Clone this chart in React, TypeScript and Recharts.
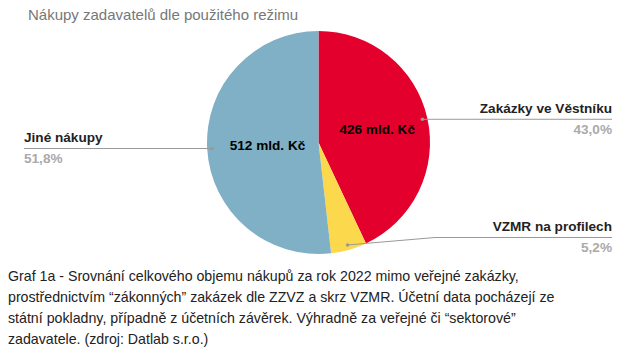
import { PieChart, Pie, Cell } from 'recharts';

// podíly (%) a objemy (mld. Kč) podle režimu nákupu
const categories = ['Zakázky ve Věstníku', 'VZMR na profilech', 'Jiné nákupy'];
const shares = [43.0, 5.2, 51.8];
const amounts: (number | null)[] = [426, null, 512];
const colors = ['#e4002d', '#fcd94c', '#7fb0c5'];

const title = 'Nákupy zadavatelů dle použitého režimu';
const caption =
  'Graf 1a - Srovnání celkového objemu nákupů za rok 2022 mimo veřejné zakázky, prostřednictvím \u201czákonných\u201d zakázek dle ZZVZ a skrz VZMR. Účetní data pocházejí ze státní pokladny, případně z účetních závěrek. Výhradně za veřejné či \u201csektorové\u201d zadavatele. (zdroj: Datlab s.r.o.)';

const data = categories.map((name, i) => ({ name, value: shares[i], amount: amounts[i] }));

const W = 635;
const H = 265;
const RADIAN = Math.PI / 180;
const FONT = '"Liberation Sans", Arial, sans-serif';

const fmtPct = (v: number) => v.toFixed(1).replace('.', ',') + '%';

function renderLabel(props: any) {
  const { cx, cy, midAngle, outerRadius, index, percent } = props;
  const cos = Math.cos(-midAngle * RADIAN);
  const sin = Math.sin(-midAngle * RADIAN);
  const ax = cx + (outerRadius - 5) * cos;
  const ay = cy + (outerRadius - 5) * sin;
  const right = cos >= 0;
  const lineY = Math.min(ay, cy + 95);
  const bendX = right ? cx + outerRadius + 5 : cx - outerRadius - 5;
  const endX = right ? W - 23 : 24;
  const path =
    lineY !== ay
      ? `M${ax},${ay}L${bendX},${lineY}L${endX},${lineY}`
      : `M${ax},${ay}L${endX},${lineY}`;

  // vnitřní popisek poblíž těžiště výseče
  const theta = percent * 2 * Math.PI;
  const cr = ((4 * outerRadius * Math.sin(theta / 2)) / (3 * theta)) * 1.12;
  const amount = data[index].amount;

  return (
    <g>
      <path d={path} stroke="#999" strokeWidth={1} fill="none" />
      <circle cx={ax} cy={ay} r={1.8} fill="#999" />
      <text
        x={endX}
        y={lineY - 6.5}
        textAnchor={right ? 'end' : 'start'}
        fontFamily={FONT}
        fontSize={13.6}
        fontWeight="bold"
        fill="#222"
      >
        {data[index].name}
      </text>
      <text
        x={endX}
        y={lineY + 14.5}
        textAnchor={right ? 'end' : 'start'}
        fontFamily={FONT}
        fontSize={13.6}
        fontWeight="bold"
        fill="#aaa"
      >
        {fmtPct(data[index].value)}
      </text>
      {amount != null && (
        <text
          x={cx + cr * cos}
          y={cy + cr * sin}
          textAnchor="middle"
          dominantBaseline="central"
          fontFamily={FONT}
          fontSize={13.6}
          fontWeight="bold"
          fill="#000"
        >
          {amount} mld. Kč
        </text>
      )}
    </g>
  );
}

export default function App() {
  return (
    <div style={{ position: 'absolute', left: 0, top: 0, width: W, height: 355, background: '#fff' }}>
      <div
        style={{
          position: 'absolute',
          left: 28,
          top: 6,
          fontFamily: FONT,
          fontSize: 15,
          color: '#777',
          whiteSpace: 'nowrap',
        }}
      >
        {title}
      </div>
      <div style={{ position: 'absolute', left: 0, top: 0 }}>
        <PieChart width={W} height={H} margin={{ top: 0, right: 0, bottom: 0, left: 0 }}>
          <Pie
            data={data}
            dataKey="value"
            nameKey="name"
            cx={318.5}
            cy={142.5}
            outerRadius={111.5}
            startAngle={90}
            endAngle={-270}
            stroke="none"
            label={renderLabel}
            labelLine={false}
            isAnimationActive={false}
          >
            {data.map((d, i) => (
              <Cell key={d.name} fill={colors[i]} />
            ))}
          </Pie>
        </PieChart>
      </div>
      <div
        style={{
          position: 'absolute',
          left: 8,
          top: 266,
          width: 560,
          fontFamily: FONT,
          fontSize: 14.2,
          lineHeight: '21px',
          color: '#222',
        }}
      >
        {caption}
      </div>
    </div>
  );
}
